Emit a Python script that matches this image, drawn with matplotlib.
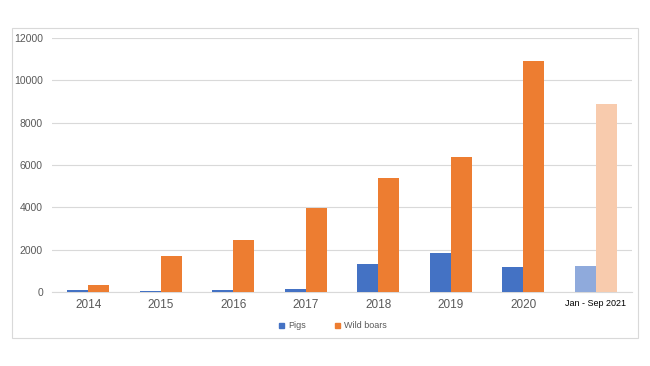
import matplotlib
matplotlib.use("Agg")
import matplotlib.pyplot as plt
import matplotlib.patches as mpatches
import numpy as np

categories = ["2014", "2015", "2016", "2017", "2018", "2019", "2020", "Jan - Sep 2021"]
pigs = [80, 60, 90, 140, 1340, 1860, 1200, 1230]
wild_boars = [340, 1700, 2450, 3950, 5370, 6400, 10930, 8900]
yticks = [0, 2000, 4000, 6000, 8000, 10000, 12000]

plt.rcParams['font.family'] = ['Liberation Sans', 'DejaVu Sans']

fig = plt.figure(figsize=(6.5, 3.66), dpi=100)
ax = fig.add_axes([52/650, 1-292/366, 580/650, (292-38)/366])

x = np.arange(len(categories))
w = 0.29
pig_colors = ['#4472C4'] * 7 + ['#8FAADC']
boar_colors = ['#ED7D31'] * 7 + ['#F8CBAD']
ax.bar(x - w/2, pigs, w, color=pig_colors, zorder=3)
ax.bar(x + w/2, wild_boars, w, color=boar_colors, zorder=3)

ax.set_xlim(-0.5, len(categories) - 0.5)
ax.set_ylim(0, 12000)
ax.set_yticks(yticks)
ax.set_yticklabels([str(t) for t in yticks], fontsize=7.5, color='#595959')
ax.set_xticks(x)
ax.set_xticklabels(categories, fontsize=8.5, color='#595959')
lbls = ax.get_xticklabels()
lbls[-1].set_fontsize(6.5)
lbls[-1].set_color('#000000')
ax.tick_params(axis='both', length=0)
ax.tick_params(axis='x', pad=5)
ax.tick_params(axis='y', pad=6.5)
ax.grid(axis='y', color='#D9D9D9', linewidth=0.8, zorder=0)
for s in ['top', 'right', 'left']:
    ax.spines[s].set_visible(False)
ax.spines['bottom'].set_color('#D9D9D9')
ax.spines['bottom'].set_linewidth(0.8)

handles = [mpatches.Patch(color='#4472C4', label='Pigs'),
           mpatches.Patch(color='#ED7D31', label='Wild boars')]
leg = fig.legend(handles=handles, loc='center', bbox_to_anchor=(333/650, 1-326/366),
                 ncol=2, frameon=False, fontsize=6.5, handlelength=0.55, handleheight=0.55,
                 handletextpad=0.5, columnspacing=3.2, labelcolor='#595959')

rect = mpatches.Rectangle((12/650, 1-338/366), (638-12)/650, (338-28)/366,
                          transform=fig.transFigure, fill=False,
                          edgecolor='#D9D9D9', linewidth=0.8)
fig.patches.append(rect)

fig.savefig("out.png", dpi=100)
